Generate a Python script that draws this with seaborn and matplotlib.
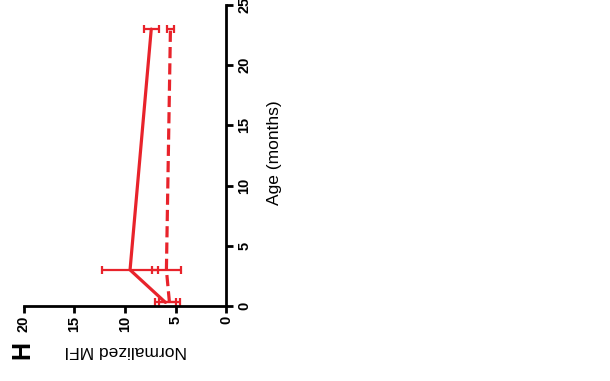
import matplotlib
matplotlib.use("Agg")
import matplotlib.pyplot as plt
import seaborn as sns
import pandas as pd

# Age (months) at each sampling point
age = [0.3, 3, 23]

# Normalized MFI, mean and SEM for the two groups
solid_mfi = [6.0, 9.5, 7.4]
solid_sem = [1.0, 2.75, 0.75]
dashed_mfi = [5.6, 5.9, 5.5]
dashed_sem = [1.0, 1.45, 0.35]

mfi_ticks = [0, 5, 10, 15, 20]
age_ticks = [0, 5, 10, 15, 20, 25]

RED = "#E8232B"

sns.set_theme(style="white")
plt.rcParams["font.family"] = ["Liberation Sans", "DejaVu Sans"]
plt.rcParams.update({
    "text.color": "black",
    "axes.labelcolor": "black",
    "xtick.color": "black",
    "ytick.color": "black",
})

fig = plt.figure(figsize=(6.1, 3.81), dpi=100)
ax = fig.add_axes([24 / 610, 1 - 306 / 381, 202 / 610, 301 / 381])

df = pd.DataFrame({
    "age": age * 2,
    "mfi": solid_mfi + dashed_mfi,
    "group": ["solid"] * 3 + ["dashed"] * 3,
})

sns.lineplot(data=df[df.group == "solid"], x="mfi", y="age", orient="y",
             color=RED, linewidth=2.3, ax=ax, legend=False)
sns.lineplot(data=df[df.group == "dashed"], x="mfi", y="age", orient="y",
             color=RED, linewidth=2.3, linestyle=(0, (3.5, 1.6)), ax=ax, legend=False)

ax.errorbar(solid_mfi, age, xerr=solid_sem, fmt="none", ecolor=RED,
            elinewidth=1.6, capsize=3.2, capthick=1.6, clip_on=False)
ax.errorbar(dashed_mfi, age, xerr=dashed_sem, fmt="none", ecolor=RED,
            elinewidth=1.6, capsize=3.2, capthick=1.6, clip_on=False)

ax.set_xlim(20, 0)
ax.set_ylim(0, 25)
ax.set_xticks(mfi_ticks)
ax.set_yticks(age_ticks)

for side in ["left", "top"]:
    ax.spines[side].set_visible(False)
for side in ["bottom", "right"]:
    ax.spines[side].set_visible(True)
    ax.spines[side].set_color("black")
    ax.spines[side].set_linewidth(2.0)
    ax.spines[side].set_capstyle("projecting")

ax.yaxis.tick_right()
ax.yaxis.set_label_position("right")
ax.tick_params(axis="x", direction="out", length=5, width=2, color="black",
               bottom=True, labelsize=10.5, pad=2)
ax.tick_params(axis="y", direction="out", length=5, width=2, color="black",
               right=True, left=False, labelsize=10.5, pad=3)

for lab in ax.get_xticklabels():
    lab.set_rotation(90)
    lab.set_fontweight("bold")
for lab in ax.get_yticklabels():
    lab.set_rotation(90)
    lab.set_fontweight("bold")
    lab.set_va("center")

ax.set_xlabel("Normalized MFI", fontsize=12.5, rotation=180, va="center", ha="center")
ax.xaxis.set_label_coords((126 - 24) / 202, (306 - 350) / 301)
ax.set_ylabel("Age (months)", fontsize=12.5, rotation=90, va="center", ha="center")
ax.yaxis.set_label_coords((275 - 24) / 202, (306 - 153) / 301)

fig.text(22 / 610, 1 - 350 / 381, "H", rotation=90, fontsize=18,
         fontweight="bold", ha="center", va="center")

fig.savefig("out.png", dpi=100)
